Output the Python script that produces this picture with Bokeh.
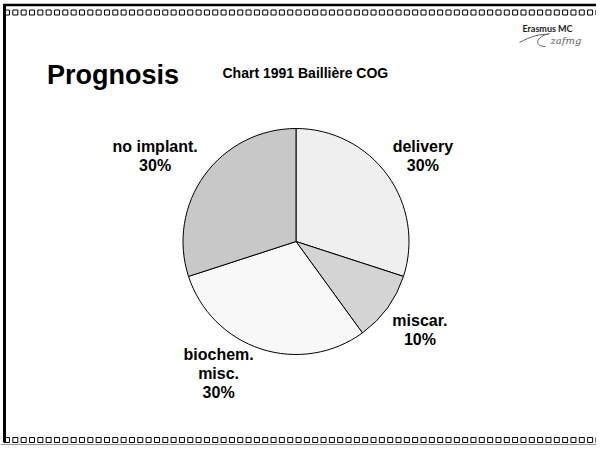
import numpy as np
from bokeh.plotting import figure
from bokeh.models import Range1d, ColumnDataSource
from bokeh.embed import file_html
from bokeh.resources import INLINE
from bokeh.core.properties import value

# ---- data ----
categories = ["delivery", "miscar.", "biochem.\nmisc.", "no implant."]
percent = [30, 10, 30, 30]
colors = ["#efefef", "#d4d4d4", "#f8f8f8", "#c8c8c8"]

title = "Prognosis"
subtitle = "Chart 1991 Baillière COG"
logo_text = "Erasmus MC"
logo_script = "zafmg"

# ---- layout / style (pixel nudges for label boxes, x right / y down) ----
label_nudge = {"delivery": (-3, 4), "miscar.": (-2, -1), "biochem.\nmisc.": (-8, -10), "no implant.": (1, 4)}

# ---- figure: data units = pixels from the top-left of the picture (y measured upward) ----
W, H = 596, 445
TOP = 461
p = figure(width=W, height=H, x_range=Range1d(0, W), y_range=Range1d(TOP - H, TOP),
           output_backend="svg", toolbar_location=None, min_border=0)
p.axis.visible = False
p.grid.visible = False
p.outline_line_color = None
p.background_fill_color = "white"
p.border_fill_color = "white"


def Y(ry):
    return TOP - ry


FONT = value("Liberation Sans")

# ---- frame decoration ----
p.segment(x0=[3], y0=[Y(4.5)], x1=[W], y1=[Y(4.5)], line_color="black", line_width=2.5)
sq_x = np.arange(6.5, W + 5, 8.33)
p.rect(x=sq_x, y=Y(12), width=5, height=5, fill_color="white", line_color="black", line_width=1)
p.rect(x=sq_x, y=Y(439.5), width=5, height=5, fill_color="white", line_color="black", line_width=1)
p.segment(x0=[0], y0=[Y(444)], x1=[W], y1=[Y(444)], line_color="#999999", line_width=1)
p.segment(x0=[4], y0=[Y(3.5)], x1=[4], y1=[Y(442)], line_color="black", line_width=3)

# ---- titles ----
p.text(x=[46.5], y=[Y(74)], text=[title], text_font=FONT, text_font_style="bold",
       text_font_size="27px", text_color="black", text_align="left", text_baseline="middle")
p.text(x=[222], y=[Y(72.5)], text=[subtitle], text_font=FONT, text_font_style="bold",
       text_font_size="14px", text_color="black", text_align="left", text_baseline="middle")

# ---- logo ----
p.text(x=[547], y=[Y(27.5)], text=[logo_text], text_font=value("Lato"), text_font_style="bold",
       text_font_size="9px", text_color="#222222", text_align="center", text_baseline="middle")
p.bezier(x0=[519], y0=[Y(42)], x1=[548], y1=[Y(34)], cx0=[530], cy0=[Y(36)], cx1=[540], cy1=[Y(33)],
         line_color="#666666", line_width=1)
p.bezier(x0=[549], y0=[Y(33)], x1=[545], y1=[Y(46)], cx0=[535], cy0=[Y(36)], cx1=[533], cy1=[Y(46)],
         line_color="#666666", line_width=1)
p.text(x=[550], y=[Y(40)], text=[logo_script], text_font=value("DejaVu Serif"), text_font_style="italic",
       text_font_size="10px", text_color="#666666", text_align="left", text_baseline="middle")

# ---- pie ----
cx, cy, R = 295.5, Y(241), 113
frac = np.array(percent, dtype=float) / sum(percent)
cum = np.concatenate([[0.0], np.cumsum(frac)])
start = np.pi / 2 - cum[:-1] * 2 * np.pi
end = np.pi / 2 - cum[1:] * 2 * np.pi
src = ColumnDataSource(dict(start=start, end=end, color=colors))
p.wedge(x=cx, y=cy, radius=R, start_angle="start", end_angle="end", direction="clock",
        fill_color="color", line_color="black", line_width=1, source=src)

# ---- labels ----
fs = 16
lh = 1.12
lx, ly, lt = [], [], []
for cat, v, a0, a1 in zip(categories, percent, start, end):
    mid = (a0 + a1) / 2
    ax = cx + (R + 8) * np.cos(mid)
    ay = cy + (R + 8) * np.sin(mid)
    lines = cat.split("\n") + [f"{v}%"]
    w = 8 * max(len(s) for s in lines)
    h = fs * lh * len(lines)
    ndx, ndy = label_nudge[cat]
    lx.append(ax + np.sign(np.cos(mid)) * w / 2 + ndx)
    ly.append(ay + np.sign(np.sin(mid)) * h / 2 - ndy)
    lt.append("\n".join(lines))
p.text(x=lx, y=ly, text=lt, text_font=FONT, text_font_style="bold", text_font_size=f"{fs}px",
       text_line_height=lh, text_color="black", text_align="center", text_baseline="middle")

open("out.html", "w").write(file_html(p, INLINE))
